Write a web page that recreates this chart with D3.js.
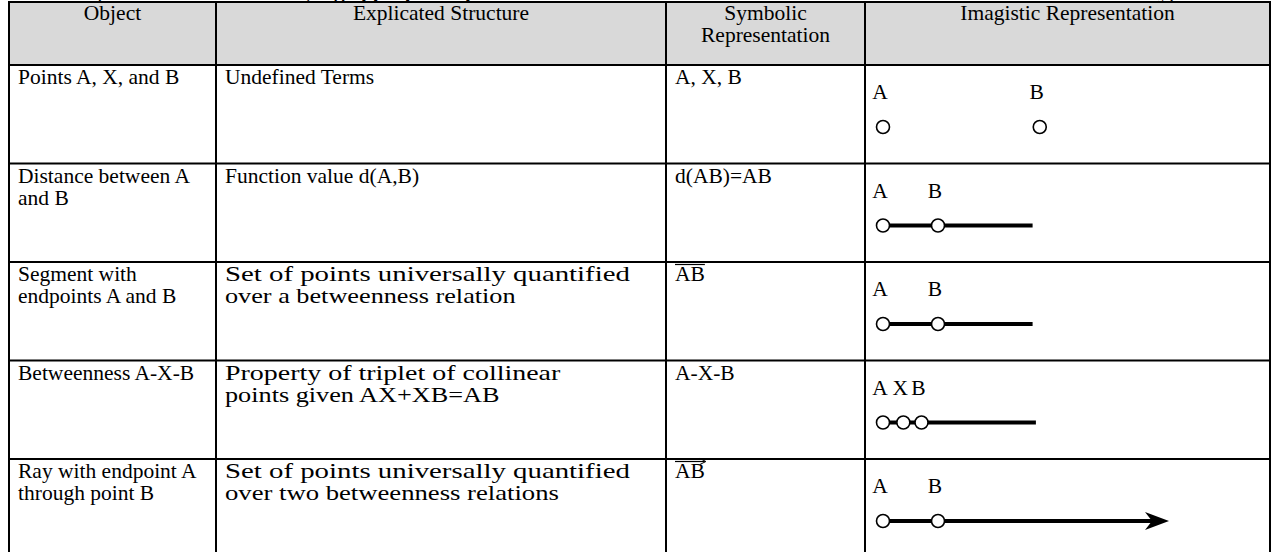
<!DOCTYPE html>
<html><head><meta charset="utf-8">
<script src="https://cdn.jsdelivr.net/npm/d3@7"></script>
<style>html,body{margin:0;padding:0;background:#fff;overflow:hidden}</style>
</head><body>
<svg id="c" width="1278" height="552"></svg>
<script>
// ---- data ----
const headers = [["Object"], ["Explicated Structure"], ["Symbolic", "Representation"], ["Imagistic Representation"]];
const objects = [["Points A, X, and B"], ["Distance between A", "and B"], ["Segment with", "endpoints A and B"], ["Betweenness A-X-B"], ["Ray with endpoint A", "through point B"]];
const structures = [["Undefined Terms"], ["Function value d(A,B)"], ["Set of points universally quantified", "over a betweenness relation"], ["Property of triplet of collinear", "points given AX+XB=AB"], ["Set of points universally quantified", "over two betweenness relations"]];
// horizontal widening of the wrapped structure-column lines (1 = natural width)
const structureWiden = [[1], [1], [1.34, 1.22], [1.3, 1.22], [1.34, 1.24]];
const symbolic = ["A, X, B", "d(AB)=AB", "AB", "A-X-B", "AB"];
const symbolicMark = ["none", "none", "bar", "none", "arrow"];
// imagistic: point labels and positions in units where AB = 1
const imgLabels = [["A", "B"], ["A", "B"], ["A", "B"], ["A", "X", "B"], ["A", "B"]];
const imgPoints = [[0, 2.85], [0, 1], [0, 1], [0, 0.37, 0.7], [0, 1]];
const imgLineEnd = [null, 2.72, 2.72, 2.78, 5.2];
const imgArrow = [false, false, false, false, true];
const captionBits = [")", "(", "g appropriate p", "y)"];

// ---- layout ----
const svg = d3.select("#c");
const colEdges = [9, 216, 666, 865, 1270];
const headerTop = 2, headerBottom = 65, rowH = 98.5;
const rowTop = i => headerBottom + i * rowH;
const font = "'Liberation Serif','Times New Roman',serif";
const fs = 21.5, lh = 22, pad = 9;
const imgX = d3.scaleLinear().domain([0, 1]).range([883, 938]);

// clipped caption line above table (only descenders visible)
const capX = [97, 304, 334, 1158];
svg.selectAll("text.cap").data(captionBits).join("text")
  .attr("x", (d, i) => capX[i]).attr("y", -2.5)
  .attr("font-family", font).attr("font-size", fs)
  .attr("font-weight", (d, i) => i === 2 ? "bold" : "normal")
  .text(d => d);

// header background
svg.append("rect").attr("x", colEdges[0]).attr("y", headerTop)
  .attr("width", colEdges[4] - colEdges[0]).attr("height", headerBottom - headerTop)
  .attr("fill", "#d9d9d9");

// header text
headers.forEach((lines, c) => {
  const cx = (colEdges[c] + colEdges[c + 1]) / 2;
  lines.forEach((t, k) => {
    svg.append("text").attr("x", cx).attr("y", headerTop + 18 + k * lh)
      .attr("text-anchor", "middle").attr("font-family", font).attr("font-size", fs)
      .attr("fill", "#000").text(t);
  });
});

// body text
function cellText(lines, c, r, widen) {
  lines.forEach((t, k) => {
    const tx = svg.append("text").attr("x", colEdges[c] + pad).attr("y", rowTop(r) + 19 + k * lh)
      .attr("font-family", font).attr("font-size", fs).attr("fill", "#000").text(t);
    if (widen && widen[k] && widen[k] !== 1) {
      const nat = tx.node().getComputedTextLength();
      const maxW = colEdges[c + 1] - colEdges[c] - 2 * pad - 2;
      tx.attr("textLength", Math.min(maxW, nat * widen[k])).attr("lengthAdjust", "spacingAndGlyphs");
    }
  });
}
objects.forEach((l, r) => cellText(l, 0, r, null));
structures.forEach((l, r) => cellText(l, 1, r, structureWiden[r]));
symbolic.forEach((t, r) => {
  const tx = svg.append("text").attr("x", colEdges[2] + pad).attr("y", rowTop(r) + 19)
    .attr("font-family", font).attr("font-size", fs).attr("fill", "#000").text(t);
  const m = symbolicMark[r];
  if (m !== "none") {
    const w = tx.node().getComputedTextLength();
    const x0 = colEdges[2] + pad, x1 = x0 + w, yb = rowTop(r) + 2.5;
    svg.append("line").attr("x1", x0).attr("x2", x1).attr("y1", yb).attr("y2", yb)
      .attr("stroke", "#000").attr("stroke-width", 1.2);
    if (m === "arrow") {
      svg.append("path").attr("d", `M${x1 - 5},${yb - 3} L${x1 + 1},${yb} L${x1 - 5},${yb + 3}`)
        .attr("fill", "none").attr("stroke", "#000").attr("stroke-width", 1);
    }
  }
});

// imagistic drawings
imgPoints.forEach((pts, r) => {
  const g = svg.append("g");
  const cy = rowTop(r) + 62, ly = rowTop(r) + 34;
  const end = imgLineEnd[r];
  if (end !== null) {
    const xEnd = imgArrow[r] ? imgX(end) - 12 : imgX(end);
    g.append("line").attr("x1", imgX(0)).attr("x2", xEnd).attr("y1", cy).attr("y2", cy)
      .attr("stroke", "#000").attr("stroke-width", 4);
    if (imgArrow[r]) {
      const tx = imgX(end);
      g.append("path")
        .attr("d", `M${tx},${cy} L${tx - 24},${cy - 9} L${tx - 17},${cy} L${tx - 24},${cy + 9} Z`)
        .attr("fill", "#000");
    }
  }
  pts.forEach((p, k) => {
    g.append("circle").attr("cx", imgX(p)).attr("cy", cy).attr("r", 6.5)
      .attr("fill", "#fff").attr("stroke", "#000").attr("stroke-width", 1.6);
    g.append("text").attr("x", imgX(p) - 3).attr("y", ly).attr("text-anchor", "middle")
      .attr("font-family", font).attr("font-size", fs).text(imgLabels[r][k]);
  });
});

// grid lines
const gl = svg.append("g").attr("stroke", "#000").attr("stroke-width", 2);
const hLines = [headerTop, headerBottom, ...objects.map((d, i) => rowTop(i + 1))];
gl.selectAll("line.h").data(hLines).join("line")
  .attr("x1", colEdges[0] - 1).attr("x2", colEdges[4] + 1)
  .attr("y1", d => d).attr("y2", d => d);
gl.selectAll("line.v").data(colEdges).join("line")
  .attr("x1", d => d).attr("x2", d => d)
  .attr("y1", headerTop).attr("y2", rowTop(objects.length));
</script>
</body></html>
